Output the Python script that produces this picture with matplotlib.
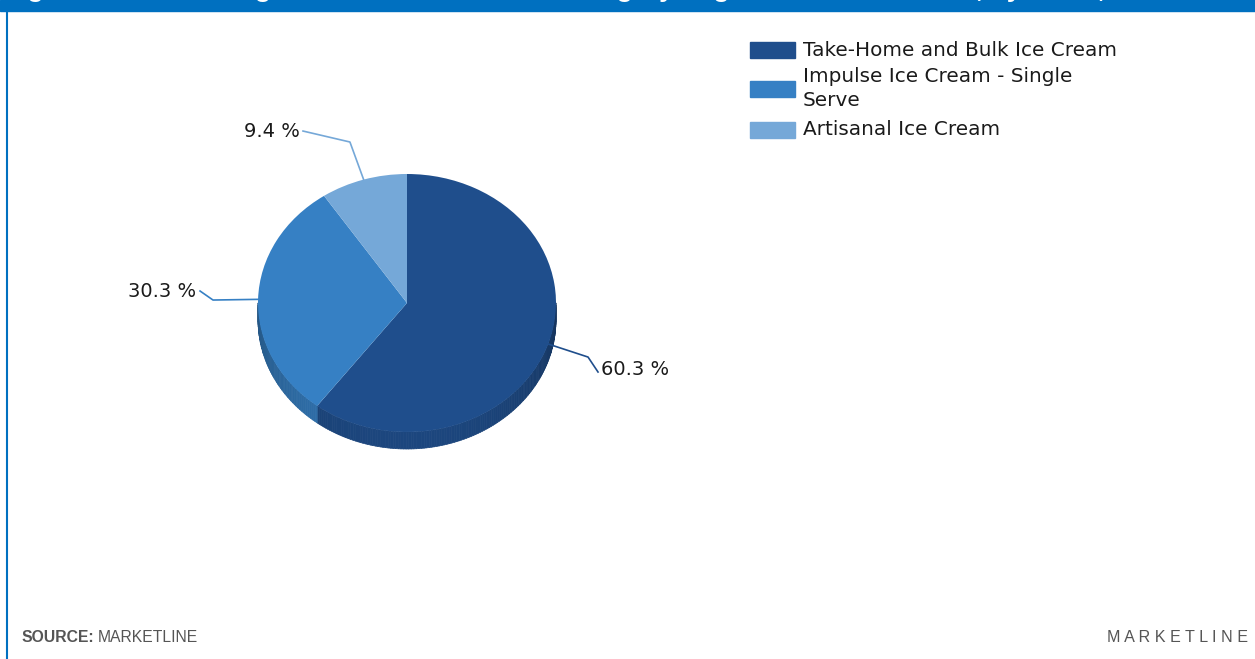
import numpy as np
import matplotlib.pyplot as plt
import matplotlib.colors as mcolors
from matplotlib.patches import Rectangle
from matplotlib.collections import PolyCollection

# data
categories = ["Take-Home and Bulk Ice Cream", "Impulse Ice Cream - Single\nServe", "Artisanal Ice Cream"]
shares = [60.3, 30.3, 9.4]
share_labels = ["60.3 %", "30.3 %", "9.4 %"]
colors = ["#1f4e8c", "#3680c4", "#75a8d8"]
title = "Figure 1: United Kingdom Ice Cream Market Category Segmentation: % Share, by Value, 2021"

W, H = 1255, 659
fig = plt.figure(figsize=(W / 100, H / 100), dpi=100)

# background axes in pixel coords (frame, banner, legend, footer)
bg = fig.add_axes([0, 0, 1, 1])
bg.set_xlim(0, W)
bg.set_ylim(H, 0)
bg.axis('off')

# pie geometry (pixels): centre, radii, depth of the side
cx, cy, rx, ry, depth = 407, 303, 149, 129, 17
span = 1.6
ax = fig.add_axes([(cx - span * rx) / W, (H - cy - span * ry) / H,
                   2 * span * rx / W, 2 * span * ry / H])
ax.patch.set_alpha(0)
wedges, _ = ax.pie(shares, colors=colors, startangle=90, counterclock=False,
                   wedgeprops=dict(linewidth=0))
ax.set_aspect('auto')
ax.set_xlim(-span, span)
ax.set_ylim(-span, span)
ax.axis('off')

# 3d side of the pie, front half only
d = depth / ry
edges = 90 - 360 * np.cumsum([0] + shares) / sum(shares)
polys, fcs = [], []
for i in range(len(shares)):
    lo, hi = max(edges[i + 1], -180), min(edges[i], 0)
    if hi <= lo:
        continue
    t = np.radians(np.linspace(lo, hi, int(hi - lo) + 2))
    base = np.array(mcolors.to_rgb(colors[i]))
    for ta, tb in zip(t[:-1], t[1:]):
        quad = [(np.cos(ta), np.sin(ta)), (np.cos(tb), np.sin(tb)),
                (np.cos(tb), np.sin(tb) - d), (np.cos(ta), np.sin(ta) - d)]
        f = 0.66 + 0.24 * (-np.sin((ta + tb) / 2))
        polys.append(quad)
        fcs.append(base * f)
ax.add_collection(PolyCollection(polys, facecolors=fcs, edgecolors=fcs,
                                 linewidths=0.5, zorder=0))

# leader lines and labels
mids = np.radians((edges[:-1] + edges[1:]) / 2)
layout = [((1.215, -0.419), (1.282, -0.535), (1.302, -0.519), 'left'),
          ((-1.302, 0.023), (-1.389, 0.093), (-1.416, 0.093), 'right'),
          ((-0.383, 1.248), (-0.698, 1.333), (-0.718, 1.333), 'right')]
for i, (elbow, end, tpos, ha) in enumerate(layout):
    ax.plot([np.cos(mids[i]), elbow[0], end[0]], [np.sin(mids[i]), elbow[1], end[1]],
            color=colors[i], lw=1.2, clip_on=False)
    ax.text(tpos[0], tpos[1], share_labels[i], ha=ha, va='center', fontsize=14,
            color='#1a1a1a', clip_on=False)

# legend
leg_y = [50, 89, 129.5]
for i, lab in enumerate(categories):
    bg.add_patch(Rectangle((750, leg_y[i] - 8), 45, 16, color=wedges[i].get_facecolor()))
    bg.text(803, leg_y[i] - (0.5 if '\n' in lab else 0), lab, ha='left', va='center',
            fontsize=14.4, color='#1a1a1a', linespacing=1.3)

# banner, frame, footer
bg.add_patch(Rectangle((0, 0), W, 11, color='#0070c0', zorder=0))
bg.text(4, -2.5, title, color='white', fontsize=19, fontweight='bold',
        family='Liberation Sans', va='baseline', ha='left')
bg.plot([7, 7], [11, H], color='#0070c0', lw=1.5)
src = bg.text(21, 637, "SOURCE:", fontsize=11.3, fontweight='bold', color='#555555',
              family='Liberation Sans', va='center')
bg.annotate("MARKETLINE", xy=(1, 0.5), xycoords=src, xytext=(3, 0),
            textcoords='offset points', va='center', ha='left', fontsize=11.3,
            color='#555555', family='Liberation Sans')
bg.text(1248, 637, "M A R K E T L I N E", ha='right', va='center', fontsize=11.6,
        color='#555555', family='Liberation Sans')

fig.savefig('out.png', dpi=100)
